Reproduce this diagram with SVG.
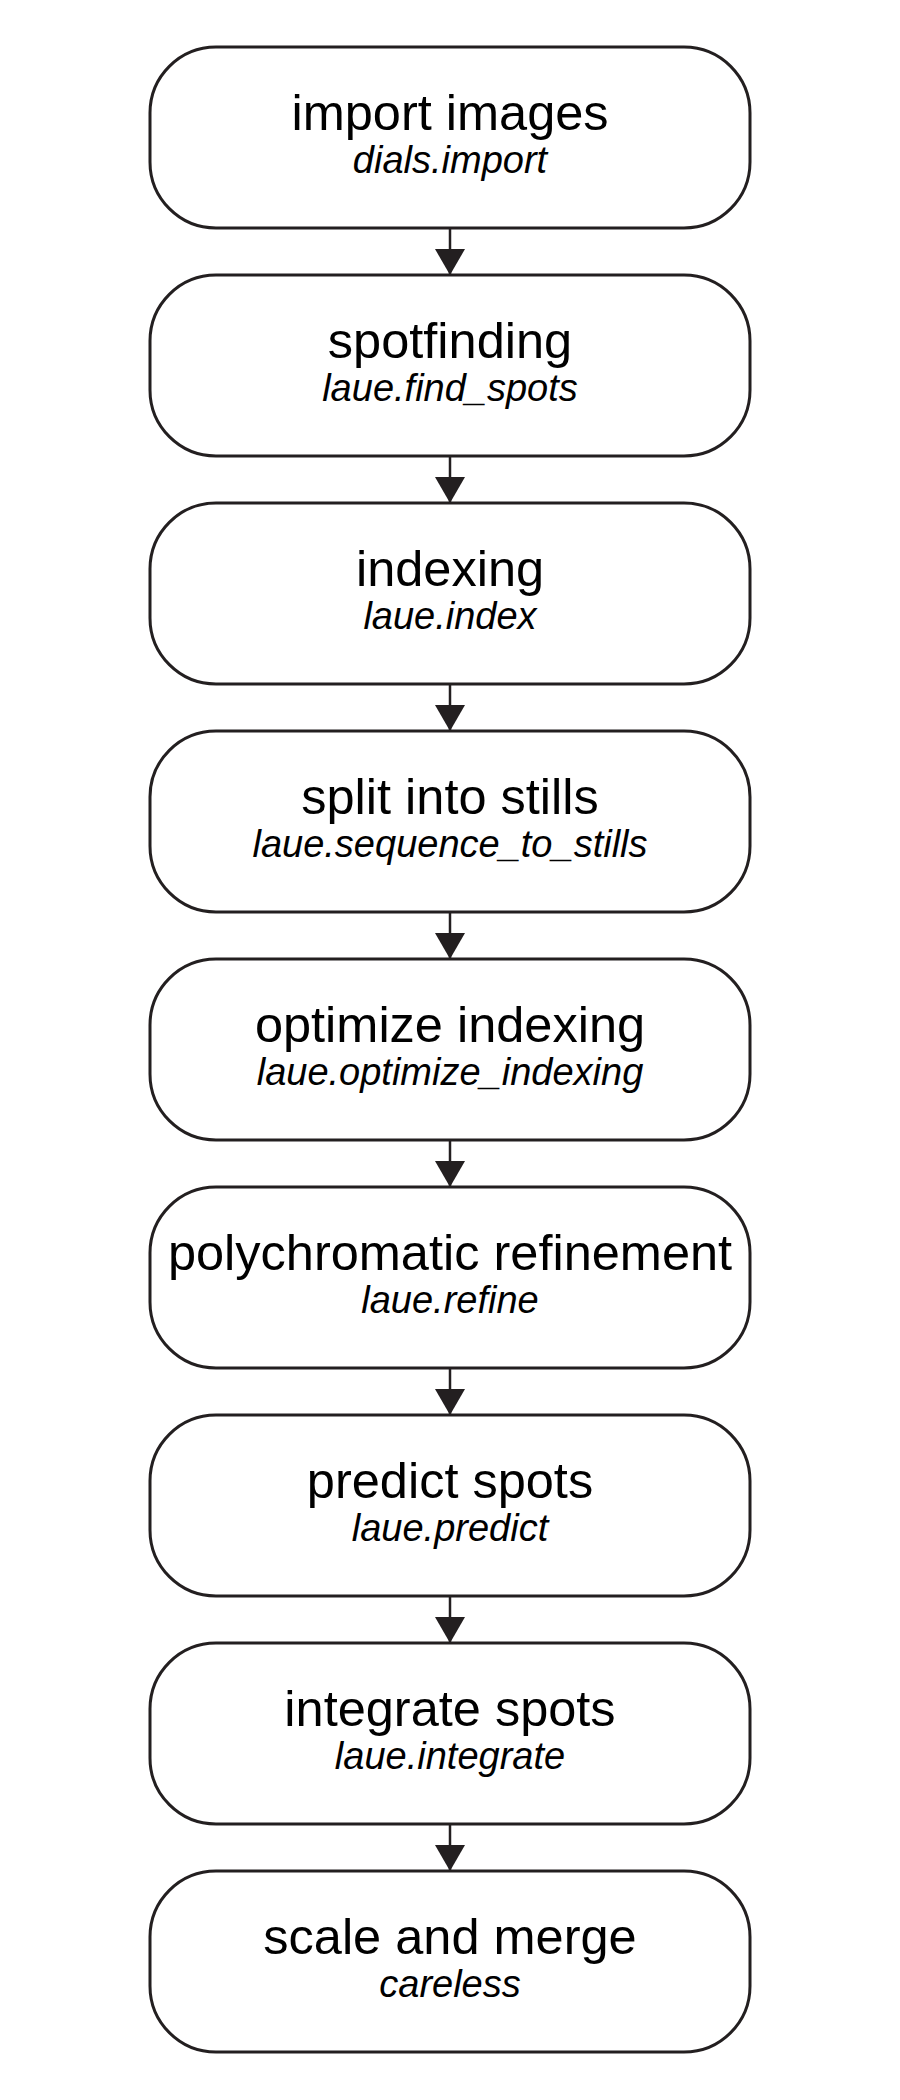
<svg xmlns="http://www.w3.org/2000/svg" width="900" height="2100" viewBox="0 0 900 2100">
<defs>
<style>
.box{fill:#fff;stroke:#231f20;stroke-width:3}
.t{font-family:"Liberation Sans",Arial,sans-serif;font-size:50.5px;fill:#000;text-anchor:middle}
.s{font-family:"Liberation Sans",Arial,sans-serif;font-size:38px;font-style:italic;fill:#000;text-anchor:middle}
.c{stroke:#231f20;stroke-width:2.5;fill:none;marker-end:url(#ah)}
</style>
<marker id="ah" markerUnits="userSpaceOnUse" markerWidth="26" markerHeight="30" refX="26" refY="15" orient="auto" viewBox="0 0 26 30">
<path d="M0,0 L26,15 L0,30 z" fill="#231f20"/>
</marker>
</defs>
<rect width="900" height="2100" fill="#fff"/>
<g id="connectors">
<line class="c" x1="450" y1="228" x2="450" y2="275"/>
<line class="c" x1="450" y1="456" x2="450" y2="503"/>
<line class="c" x1="450" y1="684" x2="450" y2="731"/>
<line class="c" x1="450" y1="912" x2="450" y2="959"/>
<line class="c" x1="450" y1="1140" x2="450" y2="1187"/>
<line class="c" x1="450" y1="1368" x2="450" y2="1415"/>
<line class="c" x1="450" y1="1596" x2="450" y2="1643"/>
<line class="c" x1="450" y1="1824" x2="450" y2="1871"/>
</g>
<g id="n1"><rect class="box" x="150" y="47" width="600" height="181" rx="66"/><text class="t" x="450" y="130">import images</text><text class="s" x="450" y="173">dials.import</text></g>
<g id="n2"><rect class="box" x="150" y="275" width="600" height="181" rx="66"/><text class="t" x="450" y="358">spotfinding</text><text class="s" x="450" y="401">laue.find_spots</text></g>
<g id="n3"><rect class="box" x="150" y="503" width="600" height="181" rx="66"/><text class="t" x="450" y="586">indexing</text><text class="s" x="450" y="629">laue.index</text></g>
<g id="n4"><rect class="box" x="150" y="731" width="600" height="181" rx="66"/><text class="t" x="450" y="814">split into stills</text><text class="s" x="450" y="857">laue.sequence_to_stills</text></g>
<g id="n5"><rect class="box" x="150" y="959" width="600" height="181" rx="66"/><text class="t" x="450" y="1042">optimize indexing</text><text class="s" x="450" y="1085">laue.optimize_indexing</text></g>
<g id="n6"><rect class="box" x="150" y="1187" width="600" height="181" rx="66"/><text class="t" x="450" y="1270">polychromatic refinement</text><text class="s" x="450" y="1313">laue.refine</text></g>
<g id="n7"><rect class="box" x="150" y="1415" width="600" height="181" rx="66"/><text class="t" x="450" y="1498">predict spots</text><text class="s" x="450" y="1541">laue.predict</text></g>
<g id="n8"><rect class="box" x="150" y="1643" width="600" height="181" rx="66"/><text class="t" x="450" y="1726">integrate spots</text><text class="s" x="450" y="1769">laue.integrate</text></g>
<g id="n9"><rect class="box" x="150" y="1871" width="600" height="181" rx="66"/><text class="t" x="450" y="1954">scale and merge</text><text class="s" x="450" y="1997">careless</text></g>
</svg>
